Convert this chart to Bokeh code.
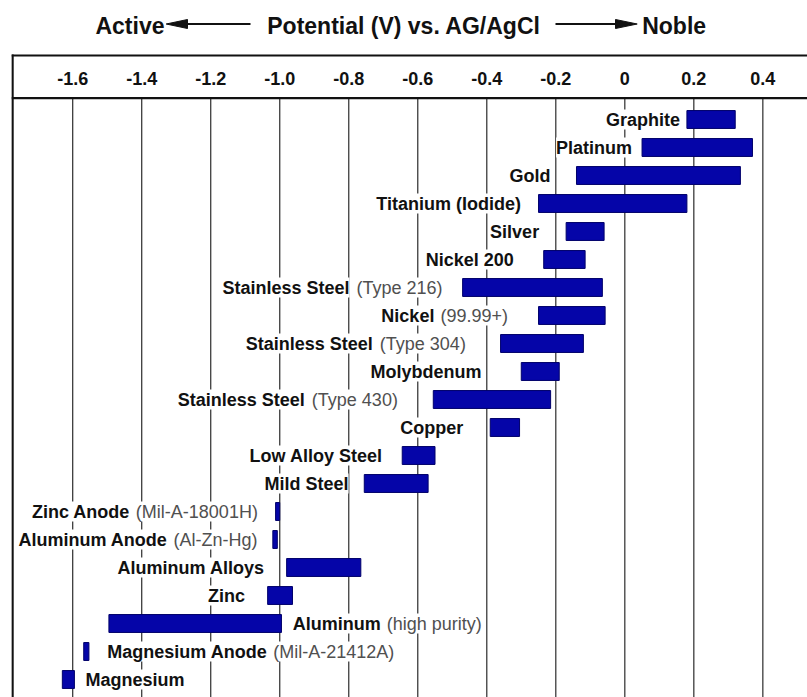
from bokeh.plotting import figure
from bokeh.models import ColumnDataSource, Range1d
from bokeh.embed import file_html
from bokeh.resources import INLINE
from bokeh.core.properties import value

# ---------------- data ----------------
materials = ["Graphite", "Platinum", "Gold", "Titanium (Iodide)", "Silver", "Nickel 200",
             "Stainless Steel", "Nickel", "Stainless Steel", "Molybdenum", "Stainless Steel",
             "Copper", "Low Alloy Steel", "Mild Steel", "Zinc Anode", "Aluminum Anode",
             "Aluminum Alloys", "Zinc", "Aluminum", "Magnesium Anode", "Magnesium"]
notes = ["", "", "", "", "", "", "(Type 216)", "(99.99+)", "(Type 304)", "", "(Type 430)",
         "", "", "", "(Mil-A-18001H)", "(Al-Zn-Hg)", "", "", "(high purity)", "(Mil-A-21412A)", ""]
v_low = [0.18, 0.05, -0.14, -0.25, -0.17, -0.235, -0.47, -0.25, -0.36, -0.30, -0.555,
         -0.39, -0.645, -0.755, -1.012, -1.02, -0.98, -1.035, -1.495, -1.568, -1.63]
v_high = [0.32, 0.37, 0.335, 0.18, -0.06, -0.115, -0.065, -0.057, -0.12, -0.19, -0.215,
          -0.305, -0.55, -0.57, -1.0, -1.007, -0.765, -0.963, -0.995, -1.553, -1.595]
ticks = [-1.6, -1.4, -1.2, -1.0, -0.8, -0.6, -0.4, -0.2, 0.0, 0.2, 0.4]
tick_labels = ["-1.6", "-1.4", "-1.2", "-1.0", "-0.8", "-0.6", "-0.4", "-0.2", "0", "0.2", "0.4"]

# ---------------- layout (not data) ----------------
label_side = ["left"] * 18 + ["right"] * 3
label_gap = [7, 10, 26, 17.5, 27, 30, 20, 30.6, 34.7, 39.7, 35.4, 27, 19.6, 15.7,
             17.7, 15.4, 22, 22.7, 11.3, 18.4, 11]

FS = 18
REG = {' ': 278, '(': 333, ')': 333, '+': 584, '-': 333, '.': 278, 'A': 667, 'H': 722,
       'M': 833, 'T': 611, 'Z': 611, 'e': 556, 'g': 556, 'h': 556, 'i': 222, 'l': 222,
       'n': 556, 'p': 556, 'r': 333, 't': 278, 'u': 556, 'y': 500}
BOLD = {' ': 278, 'A': 722, 'M': 833, 'a': 556, 'd': 611, 'e': 556, 'g': 611, 'i': 278,
        'l': 278, 'm': 889, 'n': 611, 'o': 611, 's': 556, 'u': 611}


def tw(s, table):
    return sum(table.get(c, 556) for c in s) * FS / 1000.0


# pixel -> data helpers for decorations
def X(px):
    return (px - 624.3) / 345.07


def Y(py):
    return (py - 119.0) / 28.0


W, H = 807, 697
rows = list(range(len(materials)))

p = figure(width=W, height=H, title=None,
           x_range=Range1d(X(11), X(W)), y_range=Range1d(Y(H), Y(0)),
           output_backend="svg", toolbar_location=None,
           x_axis_location=None, y_axis_location=None,
           min_border=0, min_border_left=11, outline_line_color=None)
p.xgrid.visible = False
p.ygrid.visible = False
p.background_fill_color = "white"
p.border_fill_color = "white"

FONT = value("Liberation Sans")

# grid lines (below the header box)
p.segment(x0=ticks, y0=[Y(97.7)] * len(ticks), x1=ticks, y1=[Y(H)] * len(ticks),
          line_color="#3c3c3c", line_width=1.3)

# header box
p.segment(x0=[X(11), X(11)], y0=[Y(55), Y(97.7)], x1=[X(W), X(W)], y1=[Y(55), Y(97.7)],
          line_color="#111111", line_width=2.2)
p.segment(x0=[X(12)], y0=[Y(54)], x1=[X(12)], y1=[Y(H)], line_color="#111111", line_width=2.4)

# tick labels inside the header box
p.text(x=ticks, y=[Y(78.3)] * len(ticks), text=tick_labels, text_font=FONT,
       text_font_size="18px", text_font_style="bold", text_align="center",
       text_baseline="middle", text_color="#111111")

# title with arrows
p.text(x=[X(164)], y=[Y(25)], text=["Active"], text_font=FONT, text_font_size="23px",
       text_font_style="bold", text_align="right", text_baseline="middle", text_color="#111111")
p.text(x=[X(403.5)], y=[Y(25)], text=["Potential (V) vs. AG/AgCl"], text_font=FONT,
       text_font_size="23px", text_font_style="bold", text_align="center",
       text_baseline="middle", text_color="#111111")
p.text(x=[X(641.7)], y=[Y(25)], text=["Noble"], text_font=FONT, text_font_size="23px",
       text_font_style="bold", text_align="left", text_baseline="middle", text_color="#111111")
p.segment(x0=[X(180), X(555)], y0=[Y(23.5), Y(23.5)], x1=[X(250), X(622)], y1=[Y(23.5), Y(23.5)],
          line_color="#111111", line_width=2)
p.patches(xs=[[X(165.7), X(187), X(187)], [X(636.7), X(615), X(615)]],
          ys=[[Y(23.5), Y(19), Y(28)], [Y(23.5), Y(19), Y(28)]],
          fill_color="#111111", line_color="#111111")

# bars
src = ColumnDataSource(dict(y=rows, left=v_low, right=v_high))
p.hbar(y="y", left="left", right="right", height=0.64, source=src,
       fill_color="#0505a8", line_color="#00006a", line_width=1)

# labels
bx, bxo, gx, gxo = [], [], [], []
for i in rows:
    wb = tw(materials[i], BOLD)
    wg = tw(notes[i], REG)
    g = label_gap[i]
    if label_side[i] == "left":
        gx.append(v_low[i]); gxo.append(-g)
        bx.append(v_low[i]); bxo.append(-g - (wg + 6 if notes[i] else 0))
    else:
        bx.append(v_high[i]); bxo.append(g)
        gx.append(v_high[i]); gxo.append(g + wb + 6)

for side in ("left", "right"):
    idx = [i for i in rows if label_side[i] == side]
    s_b = ColumnDataSource(dict(x=[bx[i] for i in idx], y=[rows[i] for i in idx],
                                t=[materials[i] for i in idx], xo=[bxo[i] for i in idx]))
    s_g = ColumnDataSource(dict(x=[gx[i] for i in idx], y=[rows[i] for i in idx],
                                t=[notes[i] for i in idx], xo=[gxo[i] for i in idx]))
    al = "right" if side == "left" else "left"
    p.text(x="x", y="y", text="t", x_offset="xo", source=s_b, text_font=FONT,
           text_font_size="18px", text_font_style="bold", text_align=al,
           text_baseline="middle", text_color="#111111", background_fill_color="white")
    p.text(x="x", y="y", text="t", x_offset="xo", source=s_g, text_font=FONT,
           text_font_size="18px", text_font_style="normal", text_align=al,
           text_baseline="middle", text_color="#505050", background_fill_color="white")

open("out.html", "w").write(file_html(p, INLINE, title="Galvanic Series"))
